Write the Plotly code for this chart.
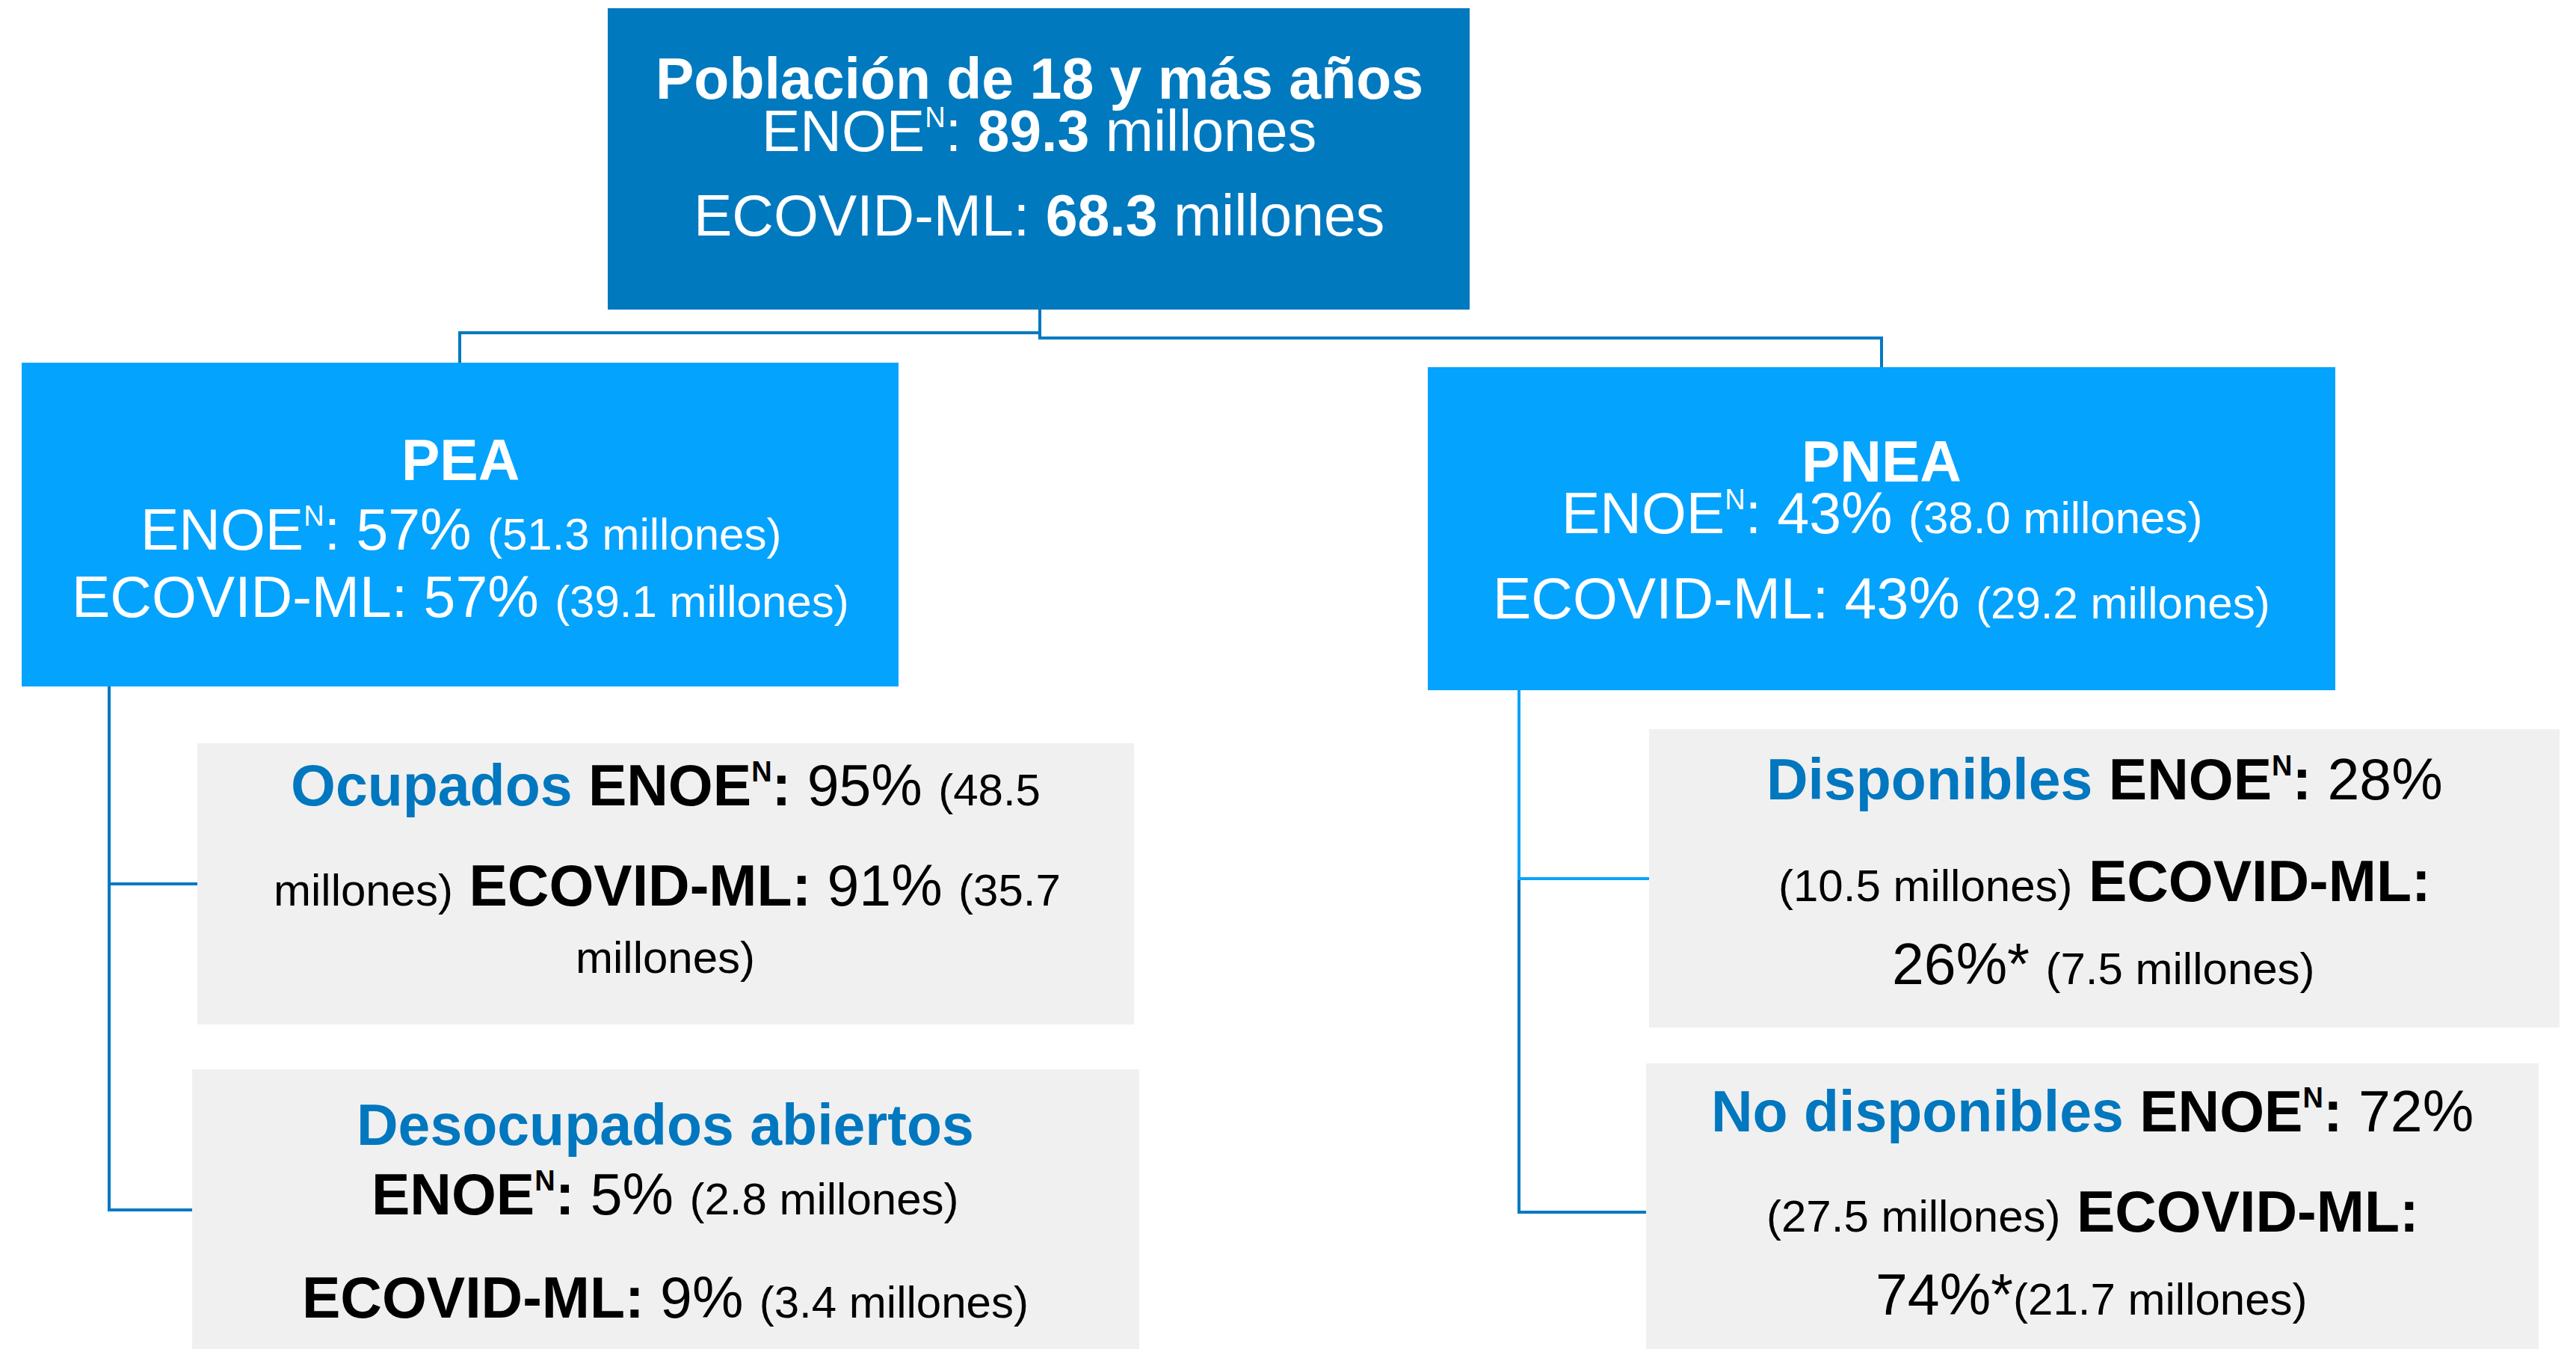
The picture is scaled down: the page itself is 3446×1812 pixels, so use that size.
import plotly.graph_objects as go

# ---------------- data ----------------
SUPN = '<sup><span style="font-size:38px">N</span></sup>'
total_sources = ["ENOE" + SUPN, "ECOVID-ML"]
total_millions = [89.3, 68.3]

group_names = ["PEA", "PNEA"]
group_enoe_pct = [57, 43]
group_enoe_mill = [51.3, 38.0]
group_ecovid_pct = [57, 43]
group_ecovid_mill = [39.1, 29.2]

sub_names = ["Ocupados", "Desocupados abiertos", "Disponibles", "No disponibles"]
sub_enoe_pct = [95, 5, 28, 72]
sub_enoe_mill = [48.5, 2.8, 10.5, 27.5]
sub_ecovid_pct = [91, 9, 26, 74]
sub_ecovid_mill = [35.7, 3.4, 7.5, 21.7]
sub_ecovid_flag = ["", "", "*", "*"]

# ---------------- style ----------------
W, H = 3446, 1812
PAD = 8  # default page margin of the html body
FONT = "Liberation Sans, Arial, Helvetica, sans-serif"
DARK = "#0079BF"
LIGHT = "#04A3FE"
GREY = "#F0F0F0"
LINE = "#0079C1"
LINE_LIGHT = "#0AA2F7"
LABEL = "#0077BE"
BIG = 77
SMALL = 60

fig = go.Figure()


def rect(x0, y0, x1, y1, color):
    fig.add_shape(type="rect", x0=x0, y0=y0, x1=x1, y1=y1, xref="x", yref="y",
                  line=dict(width=0), fillcolor=color, layer="below")


def seg(x0, y0, x1, y1, color=LINE):
    fig.add_shape(type="line", x0=x0, y0=y0, x1=x1, y1=y1, xref="x", yref="y",
                  line=dict(color=color, width=4), layer="below")


def txt(x, baseline, text, size=BIG, color="black"):
    fig.add_annotation(x=x, y=baseline - 0.35 * size, xref="x", yref="y",
                       text=text, showarrow=False, xanchor="center", yanchor="middle",
                       font=dict(family=FONT, size=size, color=color))


def sm(s):
    return f'<span style="font-size:{SMALL}px">{s}</span>'


def lab(s):
    return f'<span style="color:{LABEL}">{s}</span>'


def mill(v):
    return f"{v:.1f} millones"


# ---------------- boxes ----------------
rect(813, 11, 1966, 414, DARK)
rect(29, 485, 1202, 918, LIGHT)
rect(1910, 491, 3124, 923, LIGHT)
rect(264, 994, 1517, 1370, GREY)
rect(257, 1430, 1524, 1812, GREY)
rect(2206, 975, 3424, 1374, GREY)
rect(2202, 1422, 3396, 1812, GREY)

# ---------------- connectors ----------------
seg(1391, 414, 1391, 452)
seg(615, 445, 1393, 445)
seg(615, 443, 615, 485)
seg(1389, 452, 2519, 452)
seg(2517, 450, 2517, 491)
seg(146, 918, 146, 1620)
seg(144, 1182, 264, 1182)
seg(144, 1618, 257, 1618)
seg(2032, 923, 2032, 1175, LINE_LIGHT)
seg(2032, 1175, 2032, 1623)
seg(2030, 1175, 2206, 1175, LINE_LIGHT)
seg(2030, 1621, 2202, 1621)

# ---------------- top box text ----------------
txt(1390, 132, "<b>Población de 18 y más años</b>", 77, "white")
txt(1390, 202, f"{total_sources[0]}: <b>{total_millions[0]}</b> millones", 77, "white")
txt(1390, 315, f"{total_sources[1]}: <b>{total_millions[1]}</b> millones", 77, "white")

# ---------------- PEA / PNEA ----------------
gx = [616, 2517]
g_base = [[642, 735, 825], [644, 713, 827]]
for i in range(2):
    b = g_base[i]
    txt(gx[i], b[0], f"<b>{group_names[i]}</b>", BIG, "white")
    txt(gx[i], b[1], f"ENOE{SUPN}: {group_enoe_pct[i]}% " + sm(f"({mill(group_enoe_mill[i])})"), BIG, "white")
    txt(gx[i], b[2], f"ECOVID-ML: {group_ecovid_pct[i]}% " + sm(f"({mill(group_ecovid_mill[i])})"), BIG, "white")

# ---------------- Ocupados ----------------
i = 0
txt(890, 1077, f"<b>{lab(sub_names[i])} ENOE{SUPN}:</b> {sub_enoe_pct[i]}% " + sm(f"({sub_enoe_mill[i]}"))
txt(892, 1211, sm("millones)") + f" <b>ECOVID-ML:</b> {sub_ecovid_pct[i]}% " + sm(f"({sub_ecovid_mill[i]}"))
txt(890, 1307, sm("millones)"))

# ---------------- Desocupados ----------------
i = 1
txt(890, 1531, f"<b>{lab(sub_names[i])}</b>")
txt(890, 1624, f"<b>ENOE{SUPN}:</b> {sub_enoe_pct[i]}% " + sm(f"({mill(sub_enoe_mill[i])})"))
txt(890, 1762, f"<b>ECOVID-ML:</b> {sub_ecovid_pct[i]}% " + sm(f"({mill(sub_ecovid_mill[i])})"))

# ---------------- Disponibles ----------------
i = 2
txt(2815, 1069, f"<b>{lab(sub_names[i])} ENOE{SUPN}:</b> {sub_enoe_pct[i]}%")
txt(2815, 1205, sm(f"({mill(sub_enoe_mill[i])})") + " <b>ECOVID-ML:</b>")
txt(2814, 1316, f"{sub_ecovid_pct[i]}%{sub_ecovid_flag[i]} " + sm(f"({mill(sub_ecovid_mill[i])})"))

# ---------------- No disponibles ----------------
i = 3
txt(2799, 1513, f"<b>{lab(sub_names[i])} ENOE{SUPN}:</b> {sub_enoe_pct[i]}%")
txt(2799, 1647, sm(f"({mill(sub_enoe_mill[i])})") + " <b>ECOVID-ML:</b>")
txt(2798, 1758, f"{sub_ecovid_pct[i]}%{sub_ecovid_flag[i]}" + sm(f"({mill(sub_ecovid_mill[i])})"))

# The page body has an 8px margin: map data coordinates so that they equal page pixels.
fig.update_xaxes(range=[PAD, W - PAD], visible=False, fixedrange=True)
fig.update_yaxes(range=[H - PAD, PAD], visible=False, fixedrange=True)
fig.update_layout(width=W - 2 * PAD, height=H - 2 * PAD, margin=dict(l=0, r=0, t=0, b=0),
                  paper_bgcolor="white", plot_bgcolor="white", showlegend=False)

fig.write_html("out.html")
